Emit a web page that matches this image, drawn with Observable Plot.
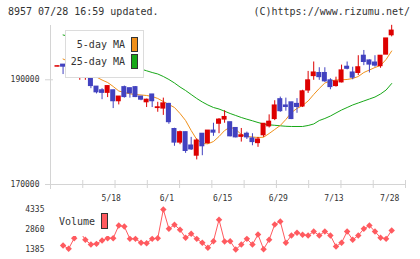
<!DOCTYPE html>
<html><head><meta charset="utf-8">
<script src="https://cdn.jsdelivr.net/npm/d3@7"></script>
<script src="https://cdn.jsdelivr.net/npm/@observablehq/plot@0.6"></script>
<style>
body{margin:0;background:#fff;}
#wrap{position:relative;width:420px;height:259px;overflow:hidden;font-family:"DejaVu Sans Mono",monospace;color:#333;}
#wrap svg{position:absolute;left:0;}
.t{position:absolute;white-space:pre;font-size:10px;line-height:12px;color:#333;}
.box{position:absolute;box-sizing:border-box;}
</style></head><body><div id="wrap"></div>
<script>
// ---- data ----
const dateLabels = ["5/18","6/1","6/15","6/29","7/13","7/28"];
const dateIndex = [10,20,30,40,50,60];
const open  = [192500,192900,192700,191300,191300,190400,190700,188700,188000,187500,188000,185900,188600,188400,188600,186800,185700,187200,184600,184500,185400,180600,178000,180000,177450,175500,179700,177900,180300,181600,182400,181900,180800,179100,179700,178800,177900,179400,181100,182500,186300,185100,185700,185400,184900,187950,190700,191300,191300,189900,188800,189500,192500,191400,191300,194600,193700,193300,192600,194800,198500];
const high  = [192600,192900,192700,192600,191800,190800,190800,188700,188300,188800,188000,186800,188800,188400,188700,186800,186300,187200,185700,186500,185500,180750,180200,180000,179000,178700,179700,180300,181700,182600,184100,181900,180800,180700,180000,179700,179000,181600,183300,186000,186700,186500,185700,186400,188000,191600,193400,192300,192300,190200,190500,192800,193400,192400,194600,195600,193800,194600,194600,197900,200400];
const low   = [192500,191000,191700,190400,189900,189900,188300,187300,186200,186600,184500,185200,186500,186500,186600,186000,184700,184700,183800,183200,181500,177300,177600,175950,176500,174700,175500,177700,179200,179700,181700,179100,178900,178100,178600,177400,177100,179000,180800,182200,183800,184000,182400,183600,184700,187400,189900,189900,189500,188100,188600,189400,191900,190000,190800,192700,191300,192400,192200,194800,198200];
const close = [192600,192500,192400,192600,191450,190700,188800,187600,187500,188800,185900,186800,186700,187400,186700,186200,186200,185900,184750,185500,181900,178000,180000,176400,176700,178400,177300,180300,179900,182400,182900,179200,179000,179400,179000,178100,178600,181600,182000,185100,184000,184800,182500,184800,187800,189900,191400,190500,189700,188600,189700,191800,192100,190400,192400,193400,192900,192700,194600,197900,199400];
const ma5   = [null,193970,193490,193020,192540,192060,191490,190530,189960,189480,188720,187860,187570,187320,187190,187100,187000,186810,186430,185850,185280,184710,183560,182220,180310,178600,177830,177770,178210,179170,180310,180980,180510,179550,179170,179070,178980,179030,179740,180510,181270,182420,183750,184520,185090,185950,187190,188340,189390,189770,189960,190000,190060,190250,190630,191390,191870,192350,192730,193880,195500];
const ma25  = [null,198560,198300,197850,197300,196800,196300,195850,195350,194900,194400,193950,193450,193000,192550,192050,191720,191390,191110,190630,190060,189390,188620,187950,187190,186430,185760,185190,184710,184420,184000,183560,183180,182800,182470,182170,181840,181560,181400,181310,181210,181120,181080,181080,181080,181270,181560,182220,182610,183080,183660,184230,184710,185190,185570,185950,186330,186710,187290,188050,189290];
const volume = [null,1680,1440,2220,2710,2100,1750,1800,2050,2220,2220,3150,3080,2170,2170,1880,1850,2170,2220,4335,2910,3210,2840,2250,2540,2170,1880,1510,2000,3580,1980,2000,1385,1750,2170,1750,2490,1410,2100,3230,3450,1880,2420,2620,2470,2420,2710,2420,2710,2420,1610,1880,2710,2100,2420,2910,3150,2710,2250,2170,2790];
const priceTicks = [170000,190000];
const volumeTicks = [1385,2860,4335];

// ---- styling ----
const RED = "#dd0000", BLUE = "#4242c0", ORANGE = "#f0901a", GREEN = "#18a818", VOLC = "#ff5a5f", AXIS = "#d4d4d4", TXT = "#333";
const FONT = "DejaVu Sans Mono, monospace";
const xDomain = [-1.257, 62.48];
const yDomain = [170000, 200370];

const candles = d3.range(open.length).map(i => ({i, o: open[i], h: high[i], l: low[i], c: close[i], up: close[i] >= open[i]}));
const maRows = d3.range(ma5.length).filter(i => ma5[i] != null).map(i => ({i, ma5: ma5[i], ma25: ma25[i]}));
const volRows = d3.range(volume.length).filter(i => volume[i] != null).map(i => ({i, v: volume[i]}));

const mainH = 202, mTop = 25, mBot = 18;
const perPx = (yDomain[1]-yDomain[0]) / (mainH - mTop - mBot);
const perIdx = (xDomain[1]-xDomain[0]) / 355;
const gridX = d3.range(12).map(k => xDomain[0] + k*(xDomain[1]-xDomain[0])/11);

const main = Plot.plot({
  width: 420, height: mainH, marginLeft: 50, marginRight: 15, marginTop: mTop, marginBottom: mBot,
  x: {domain: xDomain, axis: null},
  y: {domain: yDomain, axis: null},
  color: {type: "identity"},
  style: {fontFamily: FONT, fontSize: "8px", background: "transparent"},
  marks: [
    Plot.ruleX([xDomain[0]], {y1: yDomain[0] - 5*perPx, y2: yDomain[1], stroke: AXIS}),
    Plot.ruleY([yDomain[0]], {x1: xDomain[0] - 5*perIdx, x2: xDomain[1], stroke: AXIS}),
    Plot.ruleY([priceTicks[1]], {x1: xDomain[0] - 5*perIdx, x2: xDomain[0] + 3*perIdx, stroke: AXIS}),
    Plot.ruleX(gridX.slice(1), {y1: yDomain[0] - 4*perPx, y2: yDomain[0] + 4*perPx, stroke: AXIS}),
    Plot.text(priceTicks, {x: xDomain[0], y: d => d, text: d => String(d), textAnchor: "end", dx: -11, fill: TXT}),
    Plot.text(dateIndex, {x: d => d, y: yDomain[0], text: (d, i) => dateLabels[i], dy: 14, dx: -2, fill: TXT}),
    Plot.line(maRows, {x: "i", y: "ma25", stroke: GREEN, strokeWidth: 1}),
    Plot.line(maRows, {x: "i", y: "ma5", stroke: ORANGE, strokeWidth: 1}),
    Plot.ruleX(candles, {x: "i", y1: "l", y2: "h", stroke: d => d.up ? RED : BLUE, strokeWidth: 1}),
    Plot.rect(candles, {x1: d => d.i - 0.45, x2: d => d.i + 0.45, y1: d => Math.min(d.o, d.c), y2: d => Math.max(d.o, d.c), fill: d => d.up ? RED : BLUE, insetTop: -0.5, insetBottom: -0.5})
  ]
});
main.style.top = "0px";

const volH = 57, vTop = 7, vBot = 10;
const vol = Plot.plot({
  width: 420, height: volH, marginLeft: 50, marginRight: 15, marginTop: vTop, marginBottom: vBot,
  x: {domain: xDomain, axis: null},
  y: {domain: [volumeTicks[0], volumeTicks[2]], axis: null},
  style: {fontFamily: FONT, fontSize: "8px", background: "transparent", overflow: "visible"},
  marks: [
    Plot.text(volumeTicks, {x: xDomain[0], y: d => d, text: d => String(d), textAnchor: "end", dx: -6, fill: TXT}),
    Plot.line(volRows, {x: "i", y: "v", stroke: VOLC, strokeWidth: 1}),
    Plot.dot(volRows, {x: "i", y: "v", symbol: "diamond2", r: 2.9, fill: VOLC, stroke: "none"})
  ]
});
vol.style.top = "202px";

const wrap = document.getElementById("wrap");
wrap.appendChild(main);
wrap.appendChild(vol);

function add(html){ wrap.insertAdjacentHTML("beforeend", html); }
add(`<div class="t" style="left:8px;top:6px;">8957 07/28 16:59 updated.</div>`);
add(`<div class="t" style="right:10px;top:6px;">(C)https://www.rizumu.net/</div>`);
// MA legend
add(`<div class="box" style="left:65px;top:30px;width:79px;height:48px;border:1px solid #dcdcdc;background:#fff;"></div>`);
add(`<div class="t" style="right:295px;top:39px;">5-day MA</div>`);
add(`<div class="t" style="right:295px;top:56px;">25-day MA</div>`);
add(`<div class="box" style="left:131px;top:37px;width:7px;height:15px;border:1px solid #333;background:${ORANGE};"></div>`);
add(`<div class="box" style="left:131px;top:54px;width:7px;height:15px;border:1px solid #333;background:${GREEN};"></div>`);
// volume legend
add(`<div class="box" style="left:56px;top:211px;width:55px;height:25px;background:#fff;"></div>`);
add(`<div class="t" style="left:59px;top:216px;">Volume</div>`);
add(`<div class="box" style="left:101px;top:213px;width:7px;height:16px;border:1px solid #333;background:${VOLC};"></div>`);
</script>
</body></html>
